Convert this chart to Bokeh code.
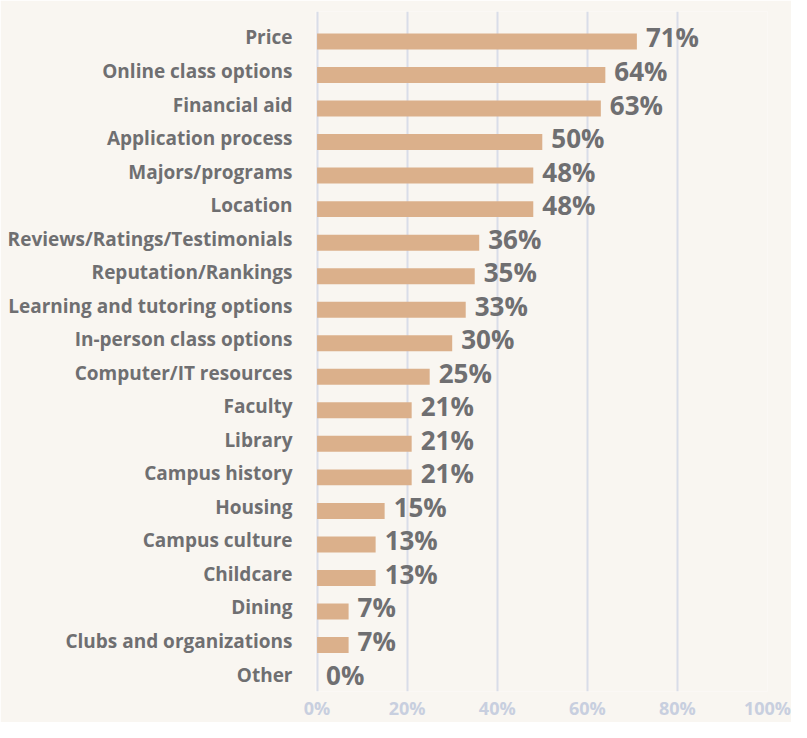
from bokeh.plotting import figure
from bokeh.models import ColumnDataSource, Range1d, FixedTicker
from bokeh.transform import dodge
from bokeh.core.properties import value
from bokeh.embed import file_html
from bokeh.resources import INLINE

categories = ["Price", "Online class options", "Financial aid", "Application process",
              "Majors/programs", "Location", "Reviews/Ratings/Testimonials",
              "Reputation/Rankings", "Learning and tutoring options",
              "In-person class options", "Computer/IT resources", "Faculty", "Library",
              "Campus history", "Housing", "Campus culture", "Childcare", "Dining",
              "Clubs and organizations", "Other"]
values = [71, 64, 63, 50, 48, 48, 36, 35, 33, 30, 25, 21, 21, 21, 15, 13, 13, 7, 7, 0]
x_ticks = [0, 20, 40, 60, 80, 100]
x_tick_labels = ["0%", "20%", "40%", "60%", "80%", "100%"]

BG = "#f9f6f1"
BAR = "#dbb08b"
GRID = "#d9dde8"
TXT = "#6f6f71"
TICK = "#c8cfdf"
FONT = "Open Sans"

idx = list(range(len(categories)))
src = ColumnDataSource(dict(
    idx=idx, cat=categories, val=values,
    lab=[f"{v}%" for v in values],
))

p = figure(width=791, height=722, output_backend="svg", toolbar_location=None,
           x_range=Range1d(-0.35, 100), y_range=Range1d(19.506, -0.774),
           min_border_left=315, min_border_right=24, min_border_top=11,
           min_border_bottom=0, background_fill_color=BG,
           border_fill_color=BG, outline_line_color=None)

p.hbar(y=dodge("idx", 0.12), right="val", left=0, height=0.476, source=src,
       fill_color=BAR, line_color=None)

p.text(x="val", y="idx", text="lab", source=src, x_offset=9,
       text_font=value(FONT), text_font_style="bold", text_font_size="26px",
       text_color=TXT, text_baseline="middle", text_align="left")

# x axis
p.xaxis.ticker = FixedTicker(ticks=x_ticks)
p.xaxis.major_label_overrides = {t: l for t, l in zip(x_ticks, x_tick_labels)}
p.xaxis.axis_line_color = None
p.xaxis.major_tick_line_color = None
p.xaxis.minor_tick_line_color = None
p.xaxis.major_tick_out = 0
p.xaxis.major_tick_in = 0
p.xaxis.minor_tick_out = 0
p.xaxis.major_label_standoff = 4
p.xaxis.major_label_text_font = FONT
p.xaxis.major_label_text_font_style = "bold"
p.xaxis.major_label_text_font_size = "18px"
p.xaxis.major_label_text_color = TICK

p.xgrid.ticker = FixedTicker(ticks=x_ticks)
p.xgrid.grid_line_color = GRID
p.xgrid.grid_line_width = 2
p.ygrid.grid_line_color = None

# y axis with category names
p.yaxis.ticker = FixedTicker(ticks=idx)
p.yaxis.major_label_overrides = {i: c for i, c in zip(idx, categories)}
p.yaxis.axis_line_color = None
p.yaxis.major_tick_line_color = None
p.yaxis.minor_tick_line_color = None
p.yaxis.major_tick_out = 0
p.yaxis.major_tick_in = 0
p.yaxis.minor_tick_out = 0
p.yaxis.major_label_standoff = 23
p.yaxis.major_label_text_font = FONT
p.yaxis.major_label_text_font_style = "bold"
p.yaxis.major_label_text_font_size = "19px"
p.yaxis.major_label_text_color = TXT

open("out.html", "w").write(file_html(p, INLINE))
